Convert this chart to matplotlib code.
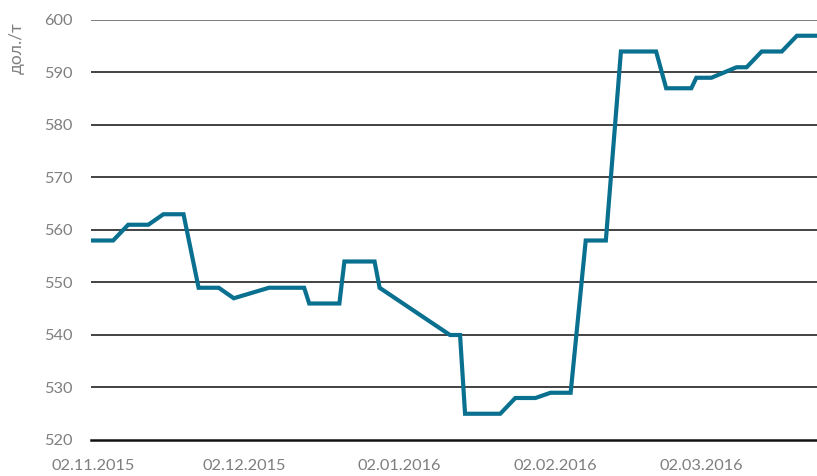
import matplotlib
matplotlib.use("Agg")
import matplotlib.pyplot as plt
import matplotlib.dates as mdates
import numpy as np
import pandas as pd

# price turning points (дол./т)
dates = ["2015-11-02", "2015-11-06", "2015-11-09", "2015-11-13", "2015-11-16",
         "2015-11-20", "2015-11-23", "2015-11-27", "2015-11-30", "2015-12-07",
         "2015-12-14", "2015-12-15", "2015-12-21", "2015-12-22", "2015-12-28",
         "2015-12-29", "2016-01-12", "2016-01-14", "2016-01-15", "2016-01-22",
         "2016-01-25", "2016-01-29", "2016-02-01", "2016-02-05", "2016-02-08",
         "2016-02-12", "2016-02-15", "2016-02-22", "2016-02-24", "2016-02-29",
         "2016-03-01", "2016-03-04", "2016-03-09", "2016-03-11", "2016-03-14",
         "2016-03-18", "2016-03-21", "2016-03-25"]
prices = [558, 558, 561, 561, 563,
          563, 549, 549, 547, 549,
          549, 546, 546, 554, 554,
          549, 540, 540, 525, 525,
          528, 528, 529, 529, 558,
          558, 594, 594, 587, 587,
          589, 589, 591, 591, 594,
          594, 597, 597]
tick_dates = ["2015-11-02", "2015-12-02", "2016-01-02", "2016-02-02", "2016-03-02"]
y_ticks = [520, 530, 540, 550, 560, 570, 580, 590, 600]

plt.rcParams['font.family'] = ['Lato', 'DejaVu Sans']
grey = '#7f7f7f'

x = pd.to_datetime(dates)
fig = plt.figure(figsize=(8.17, 4.76), dpi=100)
ax = fig.add_axes([91 / 817, 1 - 440 / 476, 1 - 91 / 817, 420 / 476])

for yv in y_ticks:
    if yv == 520:
        continue
    c = '#666666' if yv == 600 else '#222222'
    ax.axhline(yv, color=c, lw=1.2, zorder=1)

ax.plot(x, prices, color='#0a7090', lw=3.0, solid_joinstyle='miter', zorder=3)

ax.set_ylim(520, 600)
start = pd.Timestamp("2015-11-02")
ax.set_xlim(start - pd.Timedelta(days=0.4), pd.Timestamp("2016-03-25"))
ax.set_yticks(y_ticks)
ax.set_xticks(pd.to_datetime(tick_dates))
ax.xaxis.set_major_formatter(mdates.DateFormatter('%d.%m.%Y'))

for s in ['top', 'right', 'left']:
    ax.spines[s].set_visible(False)
ax.spines['bottom'].set_color('#111111')
ax.spines['bottom'].set_linewidth(1.8)
ax.tick_params(axis='both', length=0, colors=grey, labelsize=11.8)
ax.tick_params(axis='y', pad=13)
ax.tick_params(axis='x', pad=14)

fig.text(17 / 817, 1 - 48 / 476, 'дол./т', rotation=90, color=grey,
         fontsize=12.5, ha='center', va='center')

fig.savefig('out.png', dpi=100)
